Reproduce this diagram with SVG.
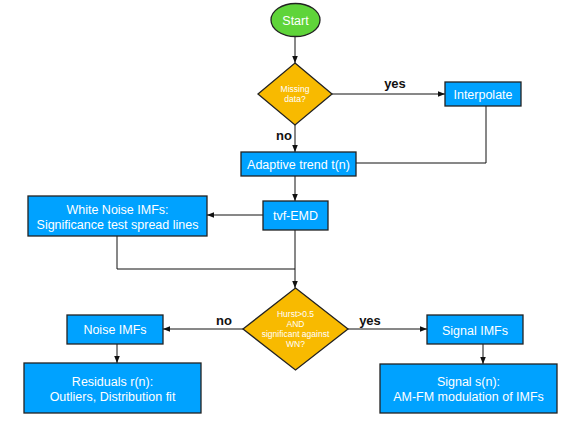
<svg xmlns="http://www.w3.org/2000/svg" width="569" height="427" viewBox="0 0 569 427">
<defs>
<style>
.box{fill:#00A2FF;stroke:#222;stroke-width:1.3}
.dia{fill:#F8BA00;stroke:#222;stroke-width:1.3}
.t{font-family:"Liberation Sans",Arial,sans-serif;font-size:12.5px;fill:#fff;text-anchor:middle}
.s{font-family:"Liberation Sans",Arial,sans-serif;font-size:8.5px;fill:#fff;text-anchor:middle}
.l{font-family:"Liberation Sans",Arial,sans-serif;font-size:13px;font-weight:bold;fill:#111;text-anchor:middle}
.c{fill:none;stroke:#111;stroke-width:1}
</style>
<marker id="a" viewBox="0 0 10 10" refX="10" refY="5" markerWidth="7" markerHeight="7" markerUnits="userSpaceOnUse" orient="auto">
<path d="M0,1 L10,5 L0,9 Z" fill="#111"/>
</marker>
</defs>
<rect width="569" height="427" fill="#fff"/>
<g id="connectors">
<line class="c" x1="295" y1="37" x2="295" y2="63" marker-end="url(#a)"/>
<line class="c" x1="332" y1="94" x2="445" y2="94" marker-end="url(#a)"/>
<line class="c" x1="295" y1="125" x2="295" y2="152" marker-end="url(#a)"/>
<polyline class="c" points="486,106 486,163 356,163"/>
<line class="c" x1="295" y1="176" x2="295" y2="201" marker-end="url(#a)"/>
<line class="c" x1="263" y1="215" x2="207" y2="215" marker-end="url(#a)"/>
<polyline class="c" points="117,236 117,269 295,269"/>
<line class="c" x1="295" y1="230" x2="295" y2="288" marker-end="url(#a)"/>
<line class="c" x1="243" y1="329" x2="163" y2="329" marker-end="url(#a)"/>
<line class="c" x1="348" y1="329" x2="427" y2="329" marker-end="url(#a)"/>
<line class="c" x1="117" y1="344" x2="117" y2="363" marker-end="url(#a)"/>
<line class="c" x1="483" y1="344" x2="483" y2="364" marker-end="url(#a)"/>
<text class="l" x="395" y="88">yes</text>
<text class="l" x="284" y="140">no</text>
<text class="l" x="224" y="325">no</text>
<text class="l" x="370" y="325">yes</text>
</g>
<g id="start">
<ellipse cx="295.5" cy="20" rx="24.5" ry="16.5" fill="#5FD43A" stroke="#222" stroke-width="1.3"/>
<text class="t" x="295.5" y="24.5">Start</text>
</g>
<g id="missing">
<polygon class="dia" points="295,63 332,94 295,125 258,94"/>
<text class="s" x="295" y="92">Missing</text>
<text class="s" x="295" y="102">data?</text>
</g>
<g id="interpolate">
<rect class="box" x="445" y="82" width="76" height="24"/>
<text class="t" x="483" y="98.5">Interpolate</text>
</g>
<g id="trend">
<rect class="box" x="241" y="152" width="115" height="24"/>
<text class="t" x="298.5" y="168.5">Adaptive trend t(n)</text>
</g>
<g id="tvf">
<rect class="box" x="263" y="201" width="65" height="29"/>
<text class="t" x="295.5" y="220">tvf-EMD</text>
</g>
<g id="whitenoise">
<rect class="box" x="28" y="196" width="179" height="40"/>
<text class="t" x="117.5" y="213.5">White Noise IMFs:</text>
<text class="t" x="117.5" y="228.5">Significance test spread lines</text>
</g>
<g id="hurst">
<polygon class="dia" points="295.5,288 348,329 295.5,370 243,329"/>
<text class="s" x="295.5" y="317">Hurst&gt;0.5</text>
<text class="s" x="295.5" y="327">AND</text>
<text class="s" x="295.5" y="337">significant against</text>
<text class="s" x="295.5" y="347">WN?</text>
</g>
<g id="noise">
<rect class="box" x="67" y="315" width="96" height="29"/>
<text class="t" x="115" y="334">Noise IMFs</text>
</g>
<g id="residuals">
<rect class="box" x="24" y="363" width="177" height="50"/>
<text class="t" x="112.5" y="386">Residuals r(n):</text>
<text class="t" x="112.5" y="401">Outliers, Distribution fit</text>
</g>
<g id="signalimfs">
<rect class="box" x="427" y="315" width="96" height="29"/>
<text class="t" x="475" y="334.5">Signal IMFs</text>
</g>
<g id="signal">
<rect class="box" x="380" y="364" width="177" height="49"/>
<text class="t" x="468.5" y="386">Signal s(n):</text>
<text class="t" x="468.5" y="401">AM-FM modulation of IMFs</text>
</g>
</svg>
